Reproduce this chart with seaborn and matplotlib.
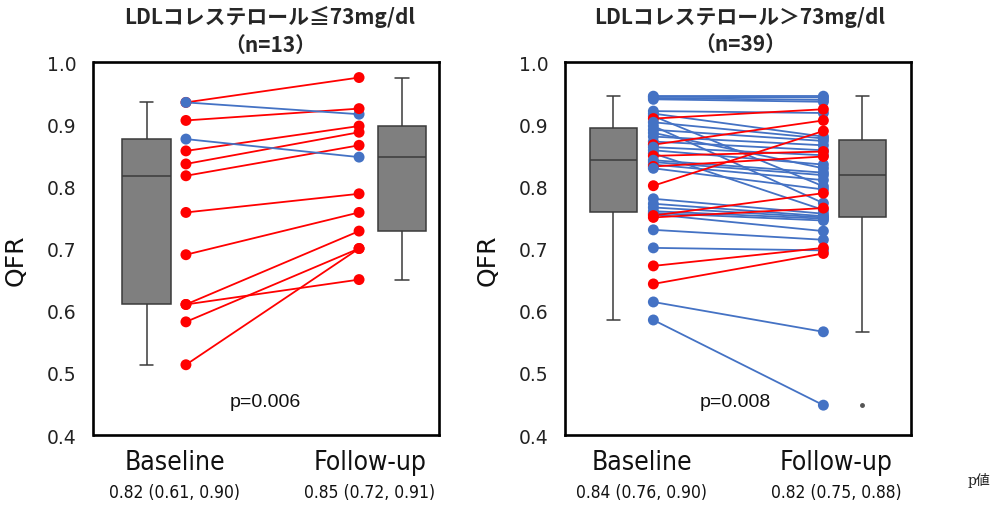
import matplotlib
matplotlib.use("Agg")
import matplotlib.pyplot as plt
from matplotlib.ticker import FormatStrFormatter
from matplotlib import font_manager
import numpy as np
import pandas as pd
import seaborn as sns

# ---- data -------------------------------------------------------------
timepoints = ["Baseline", "Follow-up"]

# LDL cholesterol <= 73 mg/dl (n=13), QFR per patient
low_baseline = [0.935, 0.935, 0.906, 0.876, 0.857, 0.836, 0.817,
                0.758, 0.690, 0.610, 0.610, 0.582, 0.513]
low_followup = [0.975, 0.916, 0.925, 0.847, 0.897, 0.887, 0.866,
                0.788, 0.758, 0.728, 0.650, 0.700, 0.700]

# LDL cholesterol > 73 mg/dl (n=39), QFR per patient
high_baseline = [0.945, 0.944, 0.942, 0.940, 0.921, 0.917, 0.913, 0.909,
                 0.903, 0.897, 0.891, 0.886, 0.880, 0.872, 0.867, 0.863,
                 0.858, 0.853, 0.849, 0.842, 0.839, 0.835, 0.832, 0.829,
                 0.801, 0.780, 0.772, 0.766, 0.760, 0.757, 0.755, 0.753,
                 0.750, 0.730, 0.701, 0.672, 0.643, 0.614, 0.585]
high_followup = [0.945, 0.943, 0.939, 0.936, 0.918, 0.880, 0.800, 0.924,
                 0.877, 0.773, 0.873, 0.829, 0.866, 0.858, 0.906, 0.850,
                 0.835, 0.762, 0.856, 0.822, 0.818, 0.810, 0.848, 0.795,
                 0.889, 0.756, 0.752, 0.750, 0.748, 0.745, 0.728, 0.789,
                 0.765, 0.714, 0.697, 0.701, 0.692, 0.566, 0.448]

panel_titles = ["LDLコレステロール≦73mg/dl\n（n=13）",
                "LDLコレステロール＞73mg/dl\n（n=39）"]
p_values = ["p=0.006", "p=0.008"]
summary_low = ["0.82 (0.61, 0.90)", "0.85 (0.72, 0.91)"]
summary_high = ["0.84 (0.76, 0.90)", "0.82 (0.75, 0.88)"]

# ---- style ------------------------------------------------------------
RED = "#FF0000"
BLUE = "#4472C4"
BOX_FILL = "#7F7F7F"
EDGE = "#3A3A3A"

sns.set_theme(style="white")
plt.rcParams["font.family"] = ["DejaVu Sans"]
CJK = ["Noto Sans CJK JP", "DejaVu Sans"]


def narrow_font():
    """Pick a condensed sans face if one is installed."""
    for f in font_manager.fontManager.ttflist:
        nm = f.name.lower()
        if ("narrow" in nm or "condensed" in nm or f.stretch in ("condensed", 400)) \
                and f.style == "normal" and f.weight in (400, "normal", "regular"):
            return font_manager.FontProperties(fname=f.fname), True
    return font_manager.FontProperties(family="Liberation Sans"), False


LABEL_FP, IS_NARROW = narrow_font()
NAME_SIZE = 19 if IS_NARROW else 17.5
SUMM_SIZE = 12.5 if IS_NARROW else 11.5

fig = plt.figure(figsize=(9.95, 5.06), dpi=100)
W, H = 995, 506


def px_axes(x0, x1, y0, y1):
    return fig.add_axes([x0 / W, 1 - y1 / H, (x1 - x0) / W, (y1 - y0) / H])


def draw_panel(ax, baseline, followup, xlim, pts_x, label_x, p_text, p_x, summaries):
    n = len(baseline)
    box_df = pd.DataFrame({
        "pos": [0] * n + [1] * n,
        "QFR": baseline + followup,
    })
    sns.boxplot(data=box_df, x="pos", y="QFR", native_scale=True, width=0.19,
                color=BOX_FILL, saturation=1, linecolor=EDGE, linewidth=1.1,
                whis=1.5,
                flierprops={"marker": "o", "markersize": 2.5,
                            "markerfacecolor": "#555555",
                            "markeredgecolor": "#555555"},
                ax=ax)
    # narrow whisker caps
    for line in ax.lines:
        xd, yd = line.get_data()
        xd = np.asarray(xd, dtype=float)
        yd = np.asarray(yd, dtype=float)
        if len(xd) == 2 and yd[0] == yd[1] and abs(xd[1] - xd[0]) < 0.17:
            c = xd.mean()
            line.set_xdata([c - 0.026, c + 0.026])

    trend = ["up" if f > b else "down" for b, f in zip(baseline, followup)]
    pairs = pd.DataFrame({
        "pid": list(range(n)) * 2,
        "x": [pts_x[0]] * n + [pts_x[1]] * n,
        "QFR": baseline + followup,
        "trend": trend * 2,
    })
    palette = {"up": RED, "down": BLUE}
    sns.lineplot(data=pairs, x="x", y="QFR", units="pid", estimator=None,
                 hue="trend", palette=palette, sort=False, linewidth=1.3,
                 legend=False, ax=ax, zorder=3)
    sns.scatterplot(data=pairs, x="x", y="QFR", hue="trend", palette=palette,
                    s=62, linewidth=0, legend=False, ax=ax, zorder=4)

    ax.set_xlim(*xlim)
    ax.set_ylim(0.4, 1.0)
    ax.set_yticks(np.arange(0.4, 1.01, 0.1))
    ax.yaxis.set_major_formatter(FormatStrFormatter("%.1f"))
    ax.set_xticks([])
    ax.set_xlabel("")
    ax.set_ylabel("QFR", fontsize=18, color="#111111")
    ax.yaxis.set_label_coords(-0.19, 0.47)
    ax.tick_params(axis="y", length=0, pad=12, labelsize=13.5, labelcolor="#222222")
    for sp in ax.spines.values():
        sp.set_visible(True)
        sp.set_color("black")
        sp.set_linewidth(1.9)

    ax.text(p_x, 0.454, p_text, ha="center", va="center", fontsize=14,
            family="Liberation Sans", color="#111111")

    tr = ax.get_xaxis_transform()
    for lx, name, summ in zip(label_x, timepoints, summaries):
        ax.text(lx, -0.072, name, transform=tr, ha="center", va="center",
                fontproperties=LABEL_FP, fontsize=NAME_SIZE, color="#111111")
        ax.text(lx, -0.152, summ, transform=tr, ha="center", va="center",
                fontproperties=LABEL_FP, fontsize=SUMM_SIZE, color="#111111")


ax1 = px_axes(93.5, 439, 63, 436)
draw_panel(ax1, low_baseline, low_followup, (-0.208, 1.145),
           (0.154, 0.832), (0.11, 0.875), p_values[0], 0.464, summary_low)

ax2 = px_axes(565, 911, 63, 436)
draw_panel(ax2, high_baseline, high_followup, (-0.194, 1.196),
           (0.161, 0.844), (0.115, 0.895), p_values[1], 0.489, summary_high)

fig.text(270 / W, 1 - 31 / H, panel_titles[0], ha="center", va="center",
         fontsize=15, fontweight="bold", family=CJK, linespacing=1.35)
fig.text(740 / W, 1 - 31 / H, panel_titles[1], ha="center", va="center",
         fontsize=15, fontweight="bold", family=CJK, linespacing=1.35)

fig.text(979 / W, 1 - 480 / H, "p値", ha="center", va="center",
         fontsize=10, family=["DejaVu Serif", "Noto Sans CJK JP"], color="#222222")

fig.savefig("out.png", dpi=100)
